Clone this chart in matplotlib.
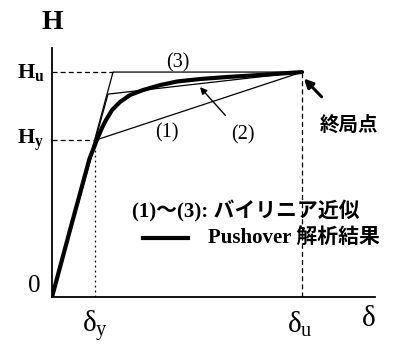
import matplotlib
matplotlib.use("Agg")
import matplotlib.pyplot as plt

plt.rcParams['mathtext.fontset'] = 'custom'
plt.rcParams['mathtext.rm'] = 'Liberation Serif'
plt.rcParams['mathtext.it'] = 'Liberation Serif'
plt.rcParams['mathtext.bf'] = 'Liberation Serif:bold'
plt.rcParams['font.family'] = ['Liberation Serif', 'Noto Sans CJK JP']

# Pushover curve (normalized: delta_u = 1, H_u = 1)
push_d = [0.0, 0.072, 0.150, 0.180, 0.200, 0.215, 0.240, 0.272, 0.312, 0.364,
          0.432, 0.500, 0.592, 0.700, 0.832, 1.0]
push_h = [0.0, 0.298, 0.615, 0.700, 0.752, 0.785, 0.831, 0.867, 0.898, 0.920,
          0.942, 0.958, 0.969, 0.978, 0.987, 1.0]

# Bilinear approximations
bi1_d = [0.0, 0.176, 1.0]
bi1_h = [0.0, 0.698, 1.0]
bi2_d = [0.0, 0.224, 1.0]
bi2_h = [0.0, 0.902, 1.0]
bi3_d = [0.0, 0.244, 1.0]
bi3_h = [0.0, 1.0, 1.0]

d_y, d_u = 0.172, 1.0
H_y, H_u = 0.698, 1.0

fig = plt.figure(figsize=(3.98, 3.46), dpi=100)
ax = fig.add_axes([0.1307, 0.1416, 0.8116, 0.7197])
ax.set_xlim(0, 1.292)
ax.set_ylim(0, 1.107)
for s in ['top', 'right']:
    ax.spines[s].set_visible(False)
for s in ['left', 'bottom']:
    ax.spines[s].set_linewidth(1.3)
ax.set_xticks([])
ax.set_yticks([])

# guide lines
ax.plot([0, bi3_d[1]], [H_u, H_u], color='black', lw=0.9, ls=(0, (4, 2.5)))
ax.plot([0, d_y - 0.01], [H_y, H_y], color='black', lw=0.9, ls=(0, (4, 2.5)))
ax.plot([d_y, d_y], [0, H_y], color='black', lw=0.9, ls=(0, (1.5, 2.5)))
ax.plot([d_u, d_u], [0, H_u], color='black', lw=0.9, ls=(0, (4, 2.5)))

# bilinear lines
for xs, ys in [(bi1_d, bi1_h), (bi2_d, bi2_h), (bi3_d, bi3_h)]:
    ax.plot(xs, ys, color='black', lw=0.9, solid_joinstyle='miter')

# pushover curve
ax.plot(push_d, push_h, color='black', lw=3.0, solid_capstyle='round',
        solid_joinstyle='round')

# axis labels
ax.text(0.004, 1.222, r'$\mathbf{H}$', fontsize=20, ha='center', va='center', clip_on=False)
ax.text(-0.03, H_u, r'$\mathbf{H_u}$', fontsize=16, ha='right', va='center', clip_on=False)
ax.text(-0.03, H_y, r'$\mathbf{H_y}$', fontsize=16, ha='right', va='center', clip_on=False)
ax.text(-0.045, 0.05, '0', fontsize=18, ha='right', va='center', clip_on=False)
ax.text(d_y, -0.055, r'$\delta_y$', fontsize=21, ha='center', va='top', clip_on=False)
ax.text(d_u - 0.01, -0.055, r'$\delta_u$', fontsize=21, ha='center', va='top', clip_on=False)
ax.text(1.264, -0.04, r'$\delta$', fontsize=21, ha='center', va='top', clip_on=False)

# annotations
ax.text(0.504, 1.04, '(3)', fontsize=14.5, ha='center', va='center')
ax.text(0.46, 0.728, '(1)', fontsize=14.5, ha='center', va='center')
ax.annotate('(2)', xy=(0.592, 0.933), xytext=(0.764, 0.72), fontsize=14.5,
            ha='center', va='center',
            arrowprops=dict(arrowstyle='-|>', color='black', lw=1.0,
                            shrinkA=7, shrinkB=0, mutation_scale=10))
ax.annotate('終局点', xy=(d_u, H_u - 0.02), xytext=(1.188, 0.764), fontsize=14,
            fontweight='bold', ha='center', va='center',
            arrowprops=dict(arrowstyle='-|>', color='black', lw=2.2,
                            shrinkA=16, shrinkB=2, mutation_scale=13))

# legend-like texts
ax.text(0.32, 0.382, '(1)～(3): バイリニア近似', fontsize=15, fontweight='bold',
        ha='left', va='center')
ax.plot([0.364, 0.544], [0.262, 0.262], color='black', lw=3.0)
ax.text(0.624, 0.262, 'Pushover 解析結果', fontsize=15, fontweight='bold',
        ha='left', va='center', clip_on=False)

fig.savefig('out.png', dpi=100)
